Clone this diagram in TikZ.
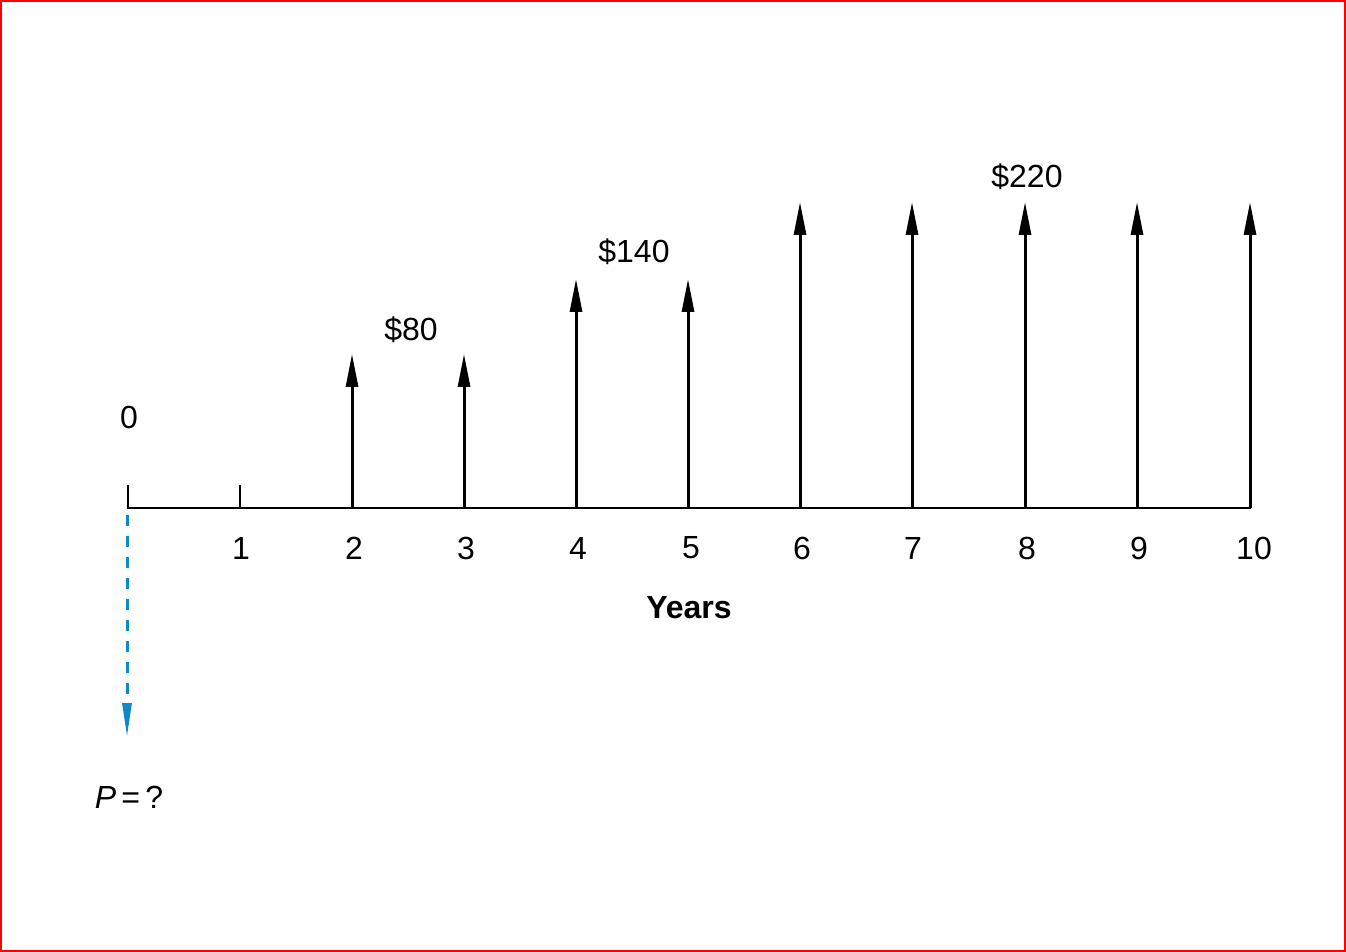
\documentclass[tikz,border=0pt]{standalone}
\usepackage{fontspec}
\setmainfont{Liberation Sans}
\usetikzlibrary{arrows.meta}
\definecolor{frame}{RGB}{255,0,0}
\definecolor{pblue}{RGB}{16,136,204}
\tikzset{
  lbl/.style={inner sep=0pt, font=\fontsize{16}{19}\selectfont},
  axisline/.style={line width=1.3pt, line cap=rect},
  flow/.style={line width=1.5pt, -{Triangle[length=16.5pt,width=6pt]}},
  pdash/.style={pblue, line width=1.5pt, dash pattern=on 5.5pt off 5pt, -{Triangle[length=17pt,width=4.5pt]}},
}
\begin{document}
\begin{tikzpicture}[x=0.5pt,y=-0.5pt]
\useasboundingbox (0,0) rectangle (1346,952);
\draw[frame, line width=1.2pt] (1,1) rectangle (1345,951);
% axis coordinates
\foreach \i/\x in {0/128,1/240,2/352,3/464,4/576,5/688,6/800,7/912,8/1025,9/1137,10/1250}{
  \coordinate (t\i) at (\x,508);
}
\coordinate (u0) at (128,486);
\coordinate (u1) at (240,486);
\coordinate (a2) at (352,354);
\coordinate (a3) at (464,354);
\coordinate (a4) at (576,279);
\coordinate (a5) at (688,279);
\coordinate (a6) at (800,202);
\coordinate (a7) at (912,202);
\coordinate (a8) at (1025,202);
\coordinate (a9) at (1137,202);
\coordinate (a10) at (1250,202);
\draw[axisline] (u0) -- (t0) -- (t10);
\draw[axisline] (t1) -- (u1);
\foreach \i in {2,...,10}{
  \draw[flow] (t\i) -- (a\i);
}
% dashed P arrow
\coordinate (pstart) at (127,515);
\coordinate (pend) at (127,737);
\draw[pdash] (pstart) -- (pend);
% labels
\node[lbl] (l0) at (129,417) {0};
\foreach \i/\x in {1/241,2/354,3/466,4/578,5/691,6/802,7/913,8/1027,9/1139,10/1254}{
  \node[lbl] (n\i) at (\x,548) {\i};
}
\node[lbl] (v80) at (411,330) {\$80};
\node[lbl] (v140) at (634,252) {\$140};
\node[lbl] (v220) at (1027,177) {\$220};
\node[lbl, font=\fontsize{16}{19}\selectfont\bfseries] (years) at (689,608) {Years};
\node[lbl] (pq) at (129,797) {\textit{P}\,=\,?};
\end{tikzpicture}
\end{document}
